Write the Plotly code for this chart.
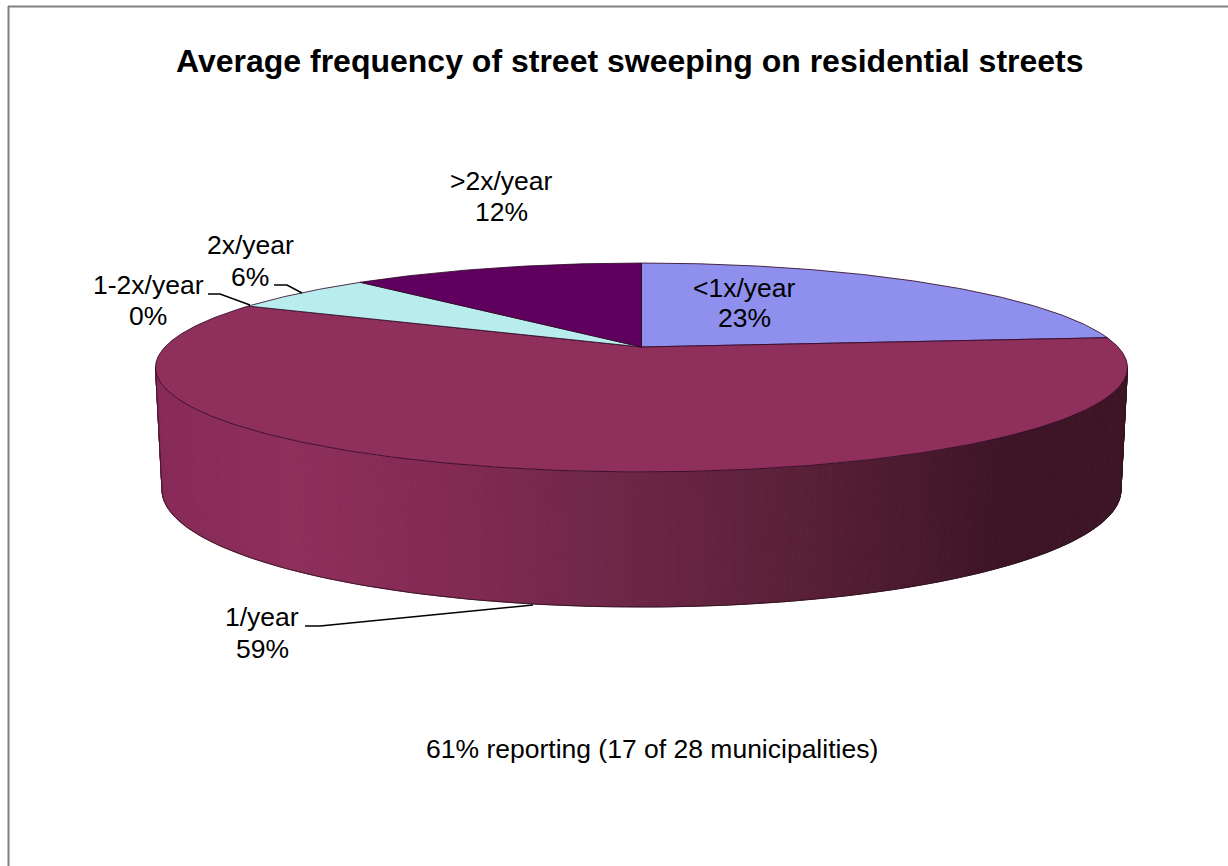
import math
import plotly.graph_objects as go

TITLE = "Average frequency of street sweeping on residential streets"
NOTE = "61% reporting (17 of 28 municipalities)"
categories = ["<1x/year", "1/year", "1-2x/year", "2x/year", ">2x/year"]
percent_labels = ["23%", "59%", "0%", "6%", "12%"]
values = [23.5, 58.8, 0.0, 5.9, 11.8]
slice_colors = ["#8F8FEE", "#8F2F5B", "#FFFFCC", "#B9ECEC", "#5F005F"]

# Shaded side of the largest slice: (screen x, colour) stops
side_x = [150, 290, 450, 580, 800, 1000, 1130]
side_rgb = [(135, 42, 88), (142, 47, 92), (131, 42, 84), (114, 40, 74),
            (90, 32, 56), (62, 21, 38), (62, 21, 38)]

W, H = 1228, 866
CX, K, C = 641.5, 476.6, 0.196
APEX_Y, A = 347.0, -32.4
TOP_RX = 486.0
BOT_CY, BOT_RX, BOT_RY = 490.0, 479.5, 117.0


def top_point(deg):
    """Project a pie angle (clockwise from 12 o'clock) on the tilted disc."""
    u, v = math.sin(math.radians(deg)), math.cos(math.radians(deg))
    w = 1 + C * v
    return CX + K * u / w, (A * v + APEX_Y) / w


def side_color(x):
    for i in range(len(side_x) - 1):
        if x <= side_x[i + 1]:
            f = max(0.0, (x - side_x[i]) / (side_x[i + 1] - side_x[i]))
            rgb = [side_rgb[i][k] + f * (side_rgb[i + 1][k] - side_rgb[i][k]) for k in range(3)]
            return "rgb(%d,%d,%d)" % tuple(round(c) for c in rgb)
    return "rgb(%d,%d,%d)" % side_rgb[-1]


fig = go.Figure()
EDGE = "rgba(50,10,40,0.85)"

# Side wall: near-vertical strips between front arcs of top and bottom ellipses
N = 200
d0 = math.degrees(math.atan2(1, -C))      # right extreme of the top ellipse
d1 = 360 - d0                             # left extreme
tops, bots = [], []
for i in range(N + 1):
    deg = d0 + (d1 - d0) * i / N
    px, py = top_point(deg)
    tops.append((px, py))
    a = math.acos(max(-1.0, min(1.0, (px - CX) / TOP_RX)))
    bots.append((CX + BOT_RX * math.cos(a), BOT_CY + BOT_RY * math.sin(a)))
for i in range(N):
    xs = [tops[i][0], tops[i + 1][0], bots[i + 1][0], bots[i][0], tops[i][0]]
    ys = [tops[i][1], tops[i + 1][1], bots[i + 1][1], bots[i][1], tops[i][1]]
    col = side_color(sum(xs[:4]) / 4)
    fig.add_trace(go.Scatter(x=xs, y=ys, mode="lines", fill="toself", fillcolor=col,
                             line=dict(color=col, width=1), hoverinfo="skip", showlegend=False))

# Outline of the side wall
out_x = [p[0] for p in bots] + [None] + [bots[0][0], tops[0][0]] + [None] + [bots[-1][0], tops[-1][0]]
out_y = [p[1] for p in bots] + [None] + [bots[0][1], tops[0][1]] + [None] + [bots[-1][1], tops[-1][1]]
fig.add_trace(go.Scatter(x=out_x, y=out_y, mode="lines", line=dict(color="rgba(40,20,30,0.8)", width=1),
                         hoverinfo="skip", showlegend=False))

# Top surface wedges
total = sum(values)
start = 0.0
for name, val, col in zip(categories, values, slice_colors):
    end = start + val / total * 360
    if val > 0:
        n = max(2, int(end - start) * 2)
        pts = [top_point(start + (end - start) * j / n) for j in range(n + 1)]
        xs = [CX] + [p[0] for p in pts] + [CX]
        ys = [APEX_Y] + [p[1] for p in pts] + [APEX_Y]
        fig.add_trace(go.Scatter(x=xs, y=ys, mode="lines", fill="toself", fillcolor=col,
                                 line=dict(color=EDGE, width=1), name=name,
                                 hovertemplate=name + "<extra></extra>", showlegend=False))
    start = end

# Leader lines
leaders = [
    ([208, 220, 250], [294, 294, 305]),
    ([274, 287, 302], [285, 285, 293]),
    ([305, 320, 533], [626, 626, 605]),
]
for lx, ly in leaders:
    fig.add_trace(go.Scatter(x=lx, y=ly, mode="lines", line=dict(color="black", width=1.5),
                             hoverinfo="skip", showlegend=False))

FONT = "Liberation Sans, Arial, sans-serif"
label_pos = {">2x/year": (501, 181, 212), "2x/year": (250, 245, 277), "1-2x/year": (148, 285, 316),
             "<1x/year": (744, 288, 318), "1/year": (262, 617, 649)}
for name, pct in zip(categories, percent_labels):
    x, y1, y2 = label_pos[name]
    fig.add_annotation(x=x, y=y1, text=name.replace("<", "&lt;"), showarrow=False,
                       font=dict(family=FONT, size=26.5, color="black"))
    fig.add_annotation(x=x, y=y2, text=pct, showarrow=False,
                       font=dict(family=FONT, size=26.5, color="black"))
fig.add_annotation(x=630, y=61, text="<b>%s</b>" % TITLE, showarrow=False,
                   font=dict(family=FONT, size=32, color="black"))
fig.add_annotation(x=652, y=749, text=NOTE, showarrow=False,
                   font=dict(family=FONT, size=26.5, color="black"))

# Chart frame (left and top edges are what the picture shows)
fig.add_shape(type="line", x0=8.5, x1=8.5, y0=6, y1=H, line=dict(color="#808080", width=2))
fig.add_shape(type="line", x0=8, x1=W, y0=6.5, y1=6.5, line=dict(color="#808080", width=2))

fig.update_xaxes(range=[0, W], visible=False, fixedrange=True)
fig.update_yaxes(range=[H, 0], visible=False, fixedrange=True)
fig.update_layout(width=W, height=H, margin=dict(l=0, r=0, t=0, b=0), autosize=False,
                  paper_bgcolor="white", plot_bgcolor="white", showlegend=False)
fig.write_html("out.html", config={"displayModeBar": False},
               post_script="document.body.style.margin='0';document.body.style.overflow='hidden';")
